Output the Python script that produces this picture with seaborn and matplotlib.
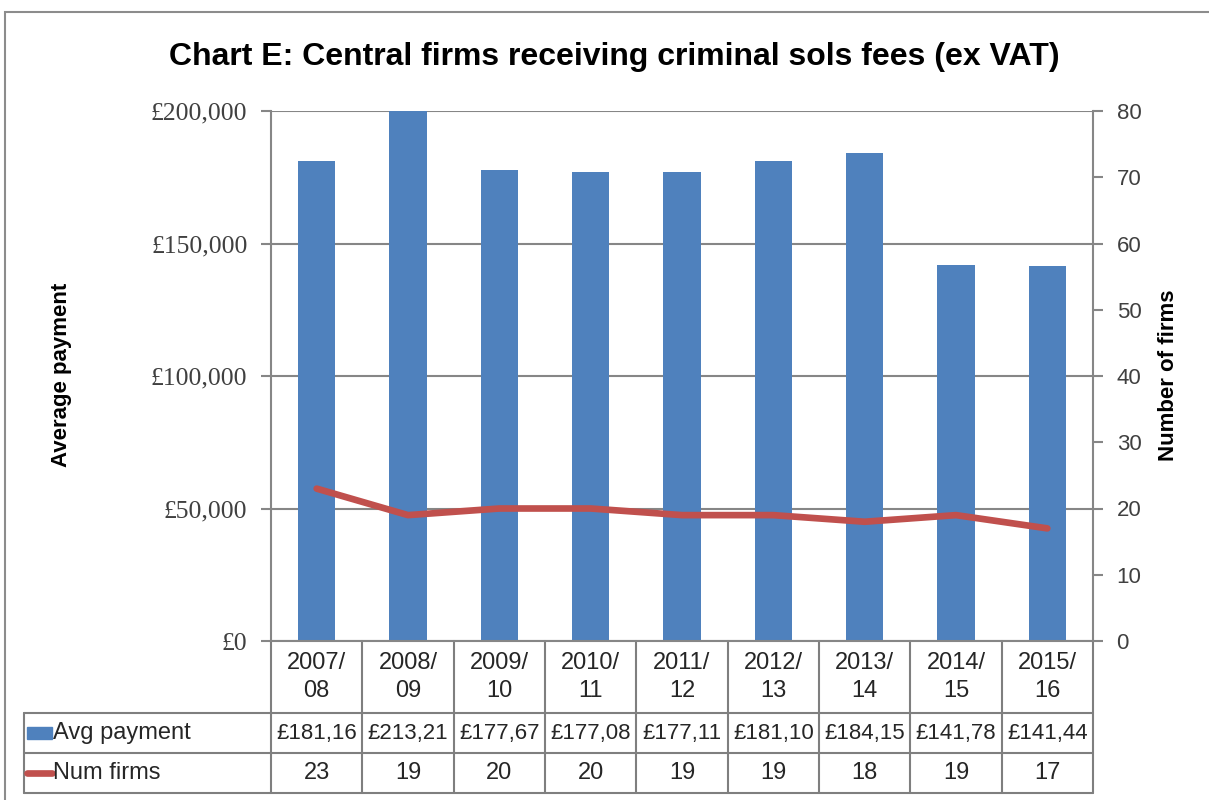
import numpy as np
import pandas as pd
import matplotlib
matplotlib.use('Agg')
import matplotlib.pyplot as plt
import matplotlib.transforms as mtransforms
from matplotlib.patches import Rectangle
from matplotlib.lines import Line2D
import seaborn as sns

# data
years = ['2007/\n08', '2008/\n09', '2009/\n10', '2010/\n11', '2011/\n12',
         '2012/\n13', '2013/\n14', '2014/\n15', '2015/\n16']
avg_payment = [181160, 213210, 177670, 177080, 177110, 181100, 184150, 141780, 141440]
num_firms = [23, 19, 20, 20, 19, 19, 18, 19, 17]
left_ticks = [0, 50000, 100000, 150000, 200000]
right_ticks = [0, 10, 20, 30, 40, 50, 60, 70, 80]

BLUE = '#4F81BD'
RED = '#C0504D'
GREY = '#868686'
TXT = '#262626'
W, H = 1209, 800

sns.set_theme(style='white')
plt.rcParams['font.family'] = ['Liberation Sans', 'DejaVu Sans']

df = pd.DataFrame({'year': years, 'avg': avg_payment, 'firms': num_firms})

# plot area in pixels: x 271..1093, y 111..641
AX_L, AX_R, AX_T, AX_B = 271, 1093, 111, 641
AX_W, AX_H = AX_R - AX_L, AX_B - AX_T

fig = plt.figure(figsize=(W / 100, H / 100), dpi=100)
ax = fig.add_axes([AX_L / W, (H - AX_B) / H, AX_W / W, AX_H / H])

sns.barplot(data=df, x='year', y='avg', color=BLUE, saturation=1, width=0.41,
            linewidth=0, ax=ax)

ax2 = ax.twinx()
sns.pointplot(data=df, x='year', y='firms', color=RED, markers='', linestyles='-',
              linewidth=4.8, errorbar=None, ax=ax2)

# axes setup
ax.set_ylim(0, 200000)
ax.set_yticks(left_ticks)
ax.set_yticklabels([f'£{v:,}' for v in left_ticks], family='Liberation Serif',
                   fontsize=18.5, color='#404040')
ax.set_xticks(range(len(years)))
ax.set_xticklabels([])
ax.tick_params(axis='x', length=0)
ax.tick_params(axis='y', direction='out', length=7, width=1.5, color=GREY, pad=10, left=True)
ax.yaxis.grid(True, color=GREY, lw=1.5)
ax.set_axisbelow(True)
ax.set_xlabel('')
ax.set_ylabel('')
for s in ['top', 'right']:
    ax.spines[s].set_visible(False)
for s in ['left', 'bottom']:
    ax.spines[s].set_color(GREY)
    ax.spines[s].set_linewidth(1.5)

ax2.set_ylim(0, 80)
ax2.set_yticks(right_ticks)
ax2.set_yticklabels([str(v) for v in right_ticks], fontsize=16, color='#404040')
ax2.tick_params(axis='y', direction='out', length=7, width=1.5, color=GREY, pad=10, right=True)
ax2.set_ylabel('')
ax2.set_xlabel('')
for s in ['top', 'left', 'bottom']:
    ax2.spines[s].set_visible(False)
ax2.spines['right'].set_color(GREY)
ax2.spines['right'].set_linewidth(1.5)
ax2.grid(False)
ax.set_xlim(-0.5, 8.5)

# data table under the plot
trans = mtransforms.blended_transform_factory(ax.transData, ax.transAxes)
px = 1 / AX_H
y_head = -72 * px
y_row1 = -112 * px
y_row2 = -152 * px
x_left = (24 - AX_L) / AX_W
TABLE = '#7F7F7F'

for i in range(len(years) + 1):
    ax.add_line(Line2D([i - 0.5, i - 0.5], [0, y_row2], transform=trans, color=TABLE,
                       lw=1.5, clip_on=False))
for yy in [y_head, y_row1, y_row2]:
    ax.add_line(Line2D([x_left, 1], [yy, yy], transform=ax.transAxes, color=TABLE,
                       lw=1.5, clip_on=False))
ax.add_line(Line2D([x_left, x_left], [y_head, y_row2], transform=ax.transAxes,
                   color=TABLE, lw=1.5, clip_on=False))

for i, lab in enumerate(years):
    ax.text(i, y_head / 2, lab, transform=trans, ha='center', va='center', fontsize=17,
            color=TXT, linespacing=1.3, clip_on=False)
    ax.text(i, (y_head + y_row1) / 2, f'£{avg_payment[i]:,}'[:7], transform=trans,
            ha='center', va='center', fontsize=16, color=TXT, clip_on=False)
    ax.text(i, (y_row1 + y_row2) / 2, str(num_firms[i]), transform=trans,
            ha='center', va='center', fontsize=17, color=TXT, clip_on=False)

# legend keys in the row headers
kx0 = (27 - AX_L) / AX_W
kx1 = (52 - AX_L) / AX_W
ax.add_patch(Rectangle((kx0, (y_head + y_row1) / 2 - 6 * px), kx1 - kx0, 12 * px,
                       transform=ax.transAxes, color=BLUE, clip_on=False))
ax.add_line(Line2D([kx0, kx1], [(y_row1 + y_row2) / 2] * 2, transform=ax.transAxes,
                   color=RED, lw=4.8, clip_on=False))
ax.text(kx1 + 1 / AX_W, (y_head + y_row1) / 2, 'Avg payment', transform=ax.transAxes,
        ha='left', va='center', fontsize=17, color=TXT, clip_on=False)
ax.text(kx1 + 1 / AX_W, (y_row1 + y_row2) / 2, 'Num firms', transform=ax.transAxes,
        ha='left', va='center', fontsize=17, color=TXT, clip_on=False)

# titles and axis labels
fig.text(614 / W, 1 - 57 / H, 'Chart E: Central firms receiving criminal sols fees (ex VAT)',
         ha='center', va='center', fontsize=23, fontweight='bold', color='black')
fig.text(62 / W, 1 - 375 / H, 'Average payment', rotation=90, ha='center', va='center',
         fontsize=16, fontweight='bold', color='black')
fig.text(1168 / W, 1 - 375 / H, 'Number of firms', rotation=90, ha='center', va='center',
         fontsize=16, fontweight='bold', color='black')

# chart frame
fig.add_artist(Rectangle((5 / W, -0.1), 1.2, 1 - 12 / H + 0.1, transform=fig.transFigure,
                         fill=False, ec='#8C8C8C', lw=1.5))

fig.savefig('out.png', dpi=100)
